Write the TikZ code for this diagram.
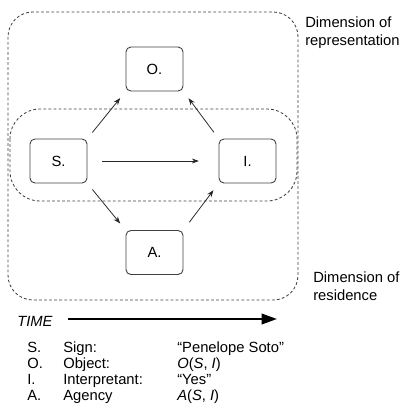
\documentclass[tikz,border=0pt]{standalone}
\usepackage{fontspec}
\setmainfont{Liberation Sans}
\usetikzlibrary{positioning, arrows.meta}

\begin{document}
\begin{tikzpicture}[
      x=0.025cm, y=-0.025cm,
      >={Stealth[length=5pt, width=3.6pt]},
      font=\fontsize{10.5}{12.8}\selectfont,
      sign/.style={
        rectangle,
        draw=black!75,
        rounded corners=3.5pt,
        text centered,
        minimum width=1.425cm,
        minimum height=1.1cm,
        line width=0.65pt,
      },
      link/.style={
        ->,
        draw=black!85,
        line width=0.55pt,
        shorten <=5.5pt,
        shorten >=6pt,
      },
      dimension/.style={
        draw=black!75,
        dash pattern=on 2pt off 1.6pt,
        line width=0.6pt,
      },
      caption/.style={
        anchor=north west,
        align=left,
        inner sep=0pt,
      },
      legend/.style={
        anchor=base west,
        inner sep=0pt,
      }
    ]
      \useasboundingbox (0,0) rectangle (403,409);

      % dimensions (dashed containers)
      \draw[dimension, rounded corners=0.62cm] (8,12) rectangle (298,300);
      \draw[dimension, rounded corners=0.75cm] (10,109) rectangle (297,201);
      \node[caption] (repr) at (305,17) {Dimension of\\representation};
      \node[caption] (resid) at (313,272) {Dimension of\\residence};

      % semiotic triad and agency
      \node[sign] (obj) at (154.5,69) {O.};
      \node[sign] (sgn) at (58.5,161) {S.};
      \node[sign] (int) at (247.5,161) {I.};
      \node[sign] (agn) at (154.5,252.5) {A.};

      % arrows between the boxes
      \draw[link] (sgn.north east) -- (obj.south west);
      \draw[link] (int.north west) -- (obj.south east);
      \draw[link, shorten <=10.5pt, shorten >=14pt] (sgn.east) -- (int.west);
      \draw[link] (sgn.south east) -- (agn.north west);
      \draw[link, shorten <=7pt] (agn.north east) -- (int.south west);

      % time axis
      \node[anchor=west, inner sep=0pt, font=\fontsize{10.5}{12.8}\selectfont\itshape] (time) at (17,321) {TIME};
      \coordinate (later) at (277,319);
      \draw[-{Triangle[length=11pt, width=7.5pt]}, line width=1.6pt] (time.east |- later) ++(15,0) -- (later);

      % legend
      \node[legend] (ks) at (27,352) {S.};
      \node[legend] (ko) at (27,368) {O.};
      \node[legend] (ki) at (27,384) {I.};
      \node[legend] (ka) at (27,400) {A.};
      \node[legend] (ns) at (63,352) {Sign:};
      \node[legend] (no) at (63,368) {Object:};
      \node[legend] (ni) at (63,384) {Interpretant:};
      \node[legend] (na) at (63,400) {Agency};
      \node[legend] (vs) at (177,352) {“Penelope Soto”};
      \node[legend] (vo) at (177,368) {\textit{O}(\textit{S}, \textit{I})};
      \node[legend] (vi) at (177,384) {“Yes”};
      \node[legend] (va) at (177,400) {\textit{A}(\textit{S}, \textit{I})};
    \end{tikzpicture}
\end{document}
